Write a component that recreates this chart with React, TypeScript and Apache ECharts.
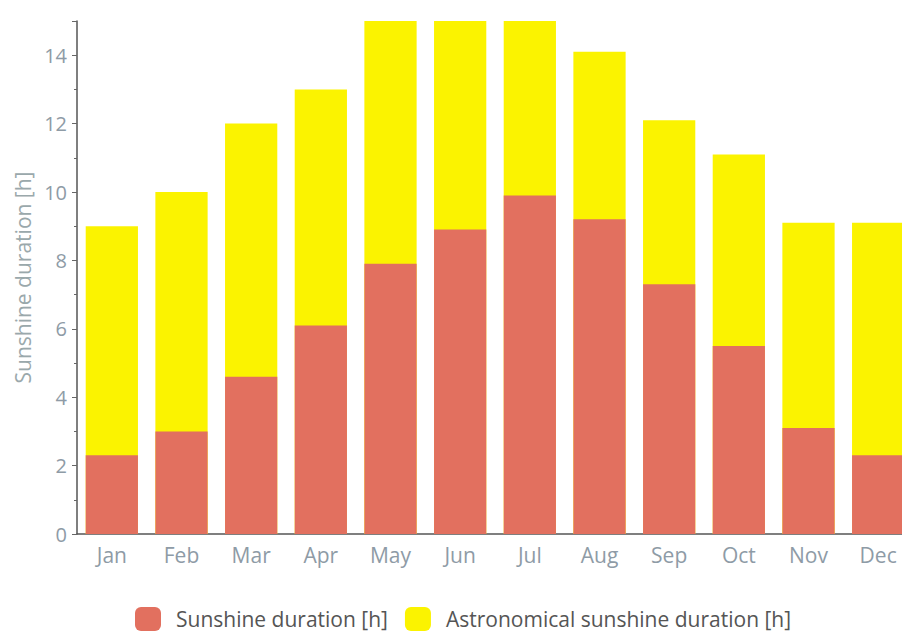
import React, { useEffect, useRef } from "react";
import * as echarts from "echarts";

const months = ["Jan", "Feb", "Mar", "Apr", "May", "Jun", "Jul", "Aug", "Sep", "Oct", "Nov", "Dec"];
const sunshine = [2.3, 3.0, 4.6, 6.1, 7.9, 8.9, 9.9, 9.2, 7.3, 5.5, 3.1, 2.3];
const astronomical = [9.0, 10.0, 12.0, 13.0, 15.0, 15.0, 15.0, 14.1, 12.1, 11.1, 9.1, 9.1];
const yMin = 0;
const yMax = 15;
const yInterval = 2;

export default function App() {
  const ref = useRef<HTMLDivElement>(null);
  useEffect(() => {
    if (!ref.current) return;
    const chart = echarts.init(ref.current, null, { renderer: "svg" });
    const font = "'Open Sans', 'Noto Sans', sans-serif";
    chart.setOption({
      animation: false,
      textStyle: { fontFamily: font },
      grid: { left: 77, right: 0, top: 21, bottom: 98, containLabel: false },
      legend: {
        left: 130,
        top: 602,
        itemWidth: 26,
        itemHeight: 24,
        itemGap: 17,
        icon: "roundRect",
        textStyle: { fontFamily: font, fontSize: 21, color: "#555", padding: [0, 0, 0, 10] },
        data: ["Sunshine duration [h]", "Astronomical sunshine duration [h]"],
      },
      xAxis: {
        type: "category",
        data: months,
        axisLine: { lineStyle: { color: "#555", width: 1.5 } },
        axisTick: { alignWithLabel: true, length: 4, lineStyle: { color: "#666" } },
        axisLabel: { color: "#8e9ba6", fontSize: 21, margin: 10, fontFamily: font },
      },
      yAxis: {
        type: "value",
        min: yMin,
        max: yMax,
        interval: yInterval,
        name: "Sunshine duration [h]",
        nameLocation: "middle",
        nameGap: 40,
        nameTextStyle: { color: "#9aa8ab", fontSize: 21, fontFamily: font },
        axisLine: { show: true, lineStyle: { color: "#555", width: 1.5 } },
        axisTick: { show: true, length: 5, lineStyle: { color: "#666" } },
        minorTick: { show: true, splitNumber: 2, length: 3, lineStyle: { color: "#666" } },
        splitLine: { show: false },
        axisLabel: {
          color: "#8e9ba6",
          fontSize: 20,
          margin: 10,
          showMaxLabel: false,
          fontFamily: font,
        },
      },
      series: [
        {
          name: "Sunshine duration [h]",
          type: "bar",
          data: sunshine,
          barWidth: "75%",
          barGap: "-100%",
          z: 3,
          itemStyle: { color: "#e2705f" },
        },
        {
          name: "Astronomical sunshine duration [h]",
          type: "bar",
          data: astronomical,
          barWidth: "75%",
          barGap: "-100%",
          z: 2,
          itemStyle: { color: "#fbf300" },
        },
      ],
    });
    return () => chart.dispose();
  }, []);
  return (
    <div style={{ position: "absolute", left: 0, top: 0, width: 902, height: 632, overflow: "hidden" }}>
      <div ref={ref} style={{ width: 913, height: 632 }} />
    </div>
  );
}
